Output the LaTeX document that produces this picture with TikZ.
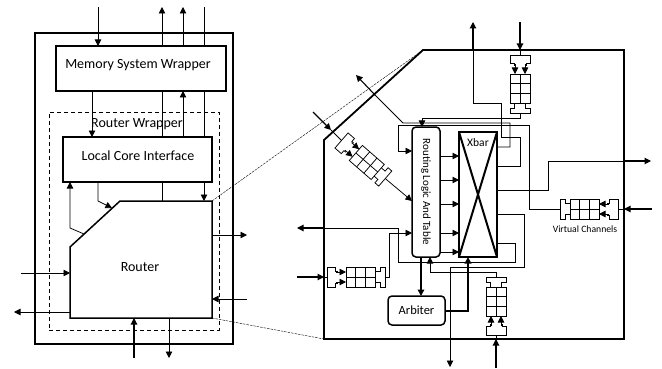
\documentclass[tikz,border=0pt]{standalone}
\usepackage{fontspec}
\setmainfont{Carlito}
\usetikzlibrary{arrows.meta}
\tikzset{
    block/.style={draw, line width=1.5pt, inner sep=0pt, outer sep=0pt},
    ghost/.style={inner sep=0pt, outer sep=0pt},
    title/.style={ghost, font=\fontsize{14}{16}\selectfont},
    wire/.style={line width=0.75pt},
    port/.style={line width=1.1pt},
    heavy/.style={line width=2pt},
    arr/.style={-{Triangle[length=6.5pt,width=6.5pt]}},
    zoomline/.style={line width=0.4pt, dash pattern=on 2.5pt off 1pt},
    vcbuffer/.pic={
        \coordinate (-in) at (0,0);
        \coordinate (-out) at (58,0);
        \draw[wire] (11,-6)--(8.5,-6)--(8.5,-10)--(0,-10)--(0,10)--(8.5,10)--(8.5,6)--(11,6);
        \foreach \y in {-5,5}
            \draw[wire,arr] (9,\y) -- (19,\y);
        \draw[wire] (19,-10) rectangle (48,10);
        \foreach \x in {28.7,38.3}
            \draw[wire] (\x,-10) -- (\x,10);
        \draw[wire] (19,0) -- (48,0);
        \draw[wire] (48,-5.5)--(53,-5.5)--(53,-10)--(58,-10)--(58,10)--(53,10)--(53,5.5)--(48,5.5);
    }
}
\begin{document}
\begin{tikzpicture}[x=1pt, y=-1pt]
            \useasboundingbox (0,0) rectangle (662,369);
            \foreach \n/\x/\y in {memin/98/7, memouta/162/7, memoutb/183/7, memtop/204/7,
                                  rtrwin/21/273, rtrwout/14/312, rtreout/247/235, rtrein/247/299,
                                  rtrsin/134/358, rtrsout/169/358,
                                  zno/473/22, znin/520/22, zeo/651/161, zein/652/209,
                                  zsin/496/368, zso/450/367, zwo/297/228, zwin/297/277,
                                  zdin/313/112, zdo/356/75}
                \coordinate (\n) at (\x,\y);

            \node[block, minimum width=198pt, minimum height=311pt] (chip) at (134,188.5) {};
            \node[block, minimum width=170pt, minimum height=45pt] (mem) at (141,68.5) {};
            \node[title] (memtext) at (138,65) {Memory System Wrapper};
            \node[draw, ghost, line width=0.7pt, dash pattern=on 4pt off 3pt, minimum width=170pt, minimum height=218pt] (wrapper) at (134,221) {};
            \node[title] (wraptext) at (137,124) {Router Wrapper};
            \node[block, minimum width=149pt, minimum height=45pt] (lci) at (137.5,159.5) {};
            \node[title] (lcitext) at (138,156) {Local Core Interface};
            \node[ghost, minimum width=142pt, minimum height=117pt] (rtr) at (141,259.5) {};
            \node[title] (rtrtext) at (140,267) {Router};
            \draw[line width=1.5pt] (rtr.south west) -- (70,247) -- (120,201) -- (rtr.north east) -- (rtr.south east) -- cycle;

            \draw[wire,arr] (memin) -- (98,0 |- mem.north);
            \draw[wire,arr] (162,0 |- mem.north) -- (memouta);
            \draw[wire,arr] (183,0 |- mem.north) -- (memoutb);
            \draw[wire] (memtop) -- (204,0 |- mem.north);
            \draw[wire,arr] (92,0 |- mem.south) -- (92,0 |- lci.north);
            \draw[wire] (162,0 |- mem.south) -- (162,0 |- lci.north);
            \draw[wire,arr] (183,0 |- lci.north) -- (183,0 |- mem.south);
            \draw[wire] (204,0 |- mem.south) -- (204,0 |- lci.north);
            \draw[wire,arr] (84,234) -- (70,228) -- (70,0 |- lci.south);
            \draw[wire,arr] (98,0 |- lci.south) -- (98,201) -- (112,208);
            \draw[wire] (162,0 |- lci.south) -- (162,0 |- rtr.north);
            \draw[wire,arr] (204,0 |- lci.south) -- (204,0 |- rtr.north);
            \draw[wire,arr] (rtr.east |- rtreout) -- (rtreout);
            \draw[wire,arr] (rtrein) -- (rtr.east |- rtrein);
            \draw[wire,arr] (rtrwin) -- (rtr.west |- rtrwin);
            \draw[wire,arr] (rtr.west |- rtrwout) -- (rtrwout);
            \draw[port,arr] (rtrsin) -- (rtrsin |- rtr.south);
            \draw[wire,arr] (rtrsout |- rtr.south) -- (rtrsout);

            \node[ghost, minimum width=300pt, minimum height=289pt] (rtz) at (474,194.5) {};
            \draw[line width=1.8pt] (rtz.south west) -- (324,140) -- (423,50) -- (rtz.north east) -- (rtz.south east) -- cycle;
            \draw[zoomline] (rtr.north east) -- (rtz.north west -| 423,0);
            \draw[zoomline] (rtr.south east) -- (rtz.south west);

            \node[block, rounded corners=4pt, rotate=-90, minimum width=130pt, minimum height=28pt, font=\fontsize{11}{13}\selectfont] (logic) at (426,192) {Routing Logic And Table};
            \node[block, minimum width=38pt, minimum height=125pt] (xbar) at (478,194.5) {};
            \node[ghost, font=\fontsize{11.5}{13}\selectfont] (xbartext) at (478,143) {Xbar};
            \draw[heavy] (xbar.north west) -- (xbar.south east);
            \draw[heavy] (xbar.north east) -- (xbar.south west);
            \node[block, rounded corners=4pt, minimum width=57pt, minimum height=29pt, font=\fontsize{12.5}{14}\selectfont] (arbiter) at (416.5,310.5) {Arbiter};

            \pic (vcleft) at (327,277) {vcbuffer};
            \pic[rotate=-90] (vctop) at (520,55) {vcbuffer};
            \pic[rotate=180] (vcright) at (618,209) {vcbuffer};
            \pic[rotate=90] (vcbottom) at (496,335) {vcbuffer};
            \pic[rotate=-41] (vcdiag) at (341.5,140.5) {vcbuffer};
            \node[ghost, font=\fontsize{9.7}{11}\selectfont] (vctext) at (585,229) {Virtual Channels};

            \foreach \y in {156,180,204,233,252}
                \draw[wire,arr] (logic.north |- 0,\y) -- (xbar.west |- 0,\y);

            \draw[heavy,arr] (421,0 |- logic.east) -- (421,0 |- arbiter.north);
            \draw[heavy,arr] (arbiter.east) -- (468,0 |- arbiter.east) -- (468,0 |- xbar.south);

            \draw[port,arr] (znin) -- (520,50);
            \draw[wire] (520,50) -- (vctop-in);
            \draw[wire,arr] (vctop-out) -- (520,118) -- (422,118) -- (422,0 |- logic.west);

            \draw[port,arr] (zein) -- (624,209);
            \draw[wire] (624,209) -- (vcright-in);
            \draw[wire,arr] (vcright-out) -- (529,209) -- (529,125) -- (398,125) -- (398,151) -- (logic.south |- 0,151);

            \draw[port,arr] (zsin) -- (496,339);
            \draw[wire] (496,339) -- (vcbottom-in);
            \draw[wire,arr] (vcbottom-out) -- (496,272) -- (430,272) -- (430,0 |- logic.east);

            \draw[port,arr] (zwin) -- (324,277);
            \draw[wire] (324,277) -- (vcleft-in);
            \draw[wire,arr] (vcleft-out) -- (389,277) -- (389,233) -- (logic.south |- 0,233);

            \draw[port,arr] (zdin) -- (331,130);
            \draw[wire] (331,130) -- (vcdiag-in);
            \draw[wire,arr] (vcdiag-out) -- (logic.south |- 0,201);

            \draw[wire] (xbar.east |- 0,166) -- (520,166) -- (520,137) -- (501,137) -- (501,103) -- (473,103) -- (473,50);
            \draw[port,arr] (473,50) -- (zno);
            \draw[wire] (xbar.east |- 0,147) -- (510,147) -- (510,123) -- (403,123) -- (375,95);
            \draw[port,arr] (375,95) -- (zdo);
            \draw[wire] (xbar.east |- 0,190) -- (548,190) -- (548,161) -- (624,161);
            \draw[port,arr] (624,161) -- (zeo);
            \draw[wire] (xbar.east |- 0,214) -- (524,214) -- (524,267) -- (450,267) -- (450,339);
            \draw[wire,arr] (450,339) -- (zso);
            \draw[wire] (xbar.east |- 0,243) -- (515,243) -- (515,262) -- (398,262) -- (398,228) -- (324,228);
            \draw[port,arr] (324,228) -- (zwo);
        \end{tikzpicture}
\end{document}
